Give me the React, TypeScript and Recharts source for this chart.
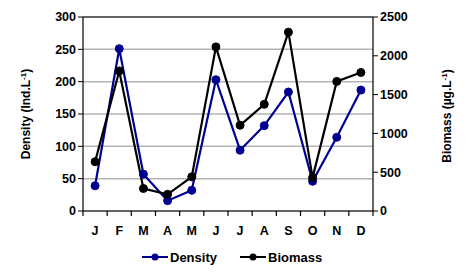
import { LineChart, Line, XAxis, YAxis, CartesianGrid, ReferenceLine, Legend } from 'recharts';

const MONTHS = ['J', 'F', 'M', 'A', 'M', 'J', 'J', 'A', 'S', 'O', 'N', 'D'];
const DENSITY = [39, 251, 57, 16, 32, 203, 94, 132, 184, 46, 114, 187];
const BIOMASS = [635, 1805, 290, 215, 440, 2115, 1105, 1375, 2305, 430, 1670, 1785];
const LEFT_TICKS = [0, 50, 100, 150, 200, 250, 300];
const RIGHT_TICKS = [0, 500, 1000, 1500, 2000, 2500];

const data = MONTHS.map((m, i) => ({ key: `${m}${i}`, month: m, density: DENSITY[i], biomass: BIOMASS[i] }));

const FONT = 'Arial, "Liberation Sans", sans-serif';
const BLUE = '#000090';
const HALF = 290 / 24;

function MonthTick(props: any) {
    const { x, index } = props;
    const axisY = 211;
    return (
        <g>
            {index === 0 && <line x1={x - HALF} y1={axisY} x2={x - HALF} y2={axisY + 5} stroke="#000" strokeWidth={1.2} />}
            <line x1={x + HALF} y1={axisY} x2={x + HALF} y2={axisY + 5} stroke="#000" strokeWidth={1.2} />
            <text x={x} y={axisY + 24} textAnchor="middle" fontFamily={FONT} fontWeight="bold" fontSize={12.5} fill="#000">
                {MONTHS[index]}
            </text>
        </g>
    );
}

function LegendContent() {
    const items = [
        { name: 'Density', color: BLUE },
        { name: 'Biomass', color: '#000' },
    ];
    return (
        <svg width={467} height={20} style={{ display: 'block' }}>
            {items.map((it, i) => {
                const x0 = 142 + i * 98;
                return (
                    <g key={it.name}>
                        <line x1={x0} y1={10} x2={x0 + 26} y2={10} stroke={it.color} strokeWidth={2} />
                        <circle cx={x0 + 13} cy={10} r={3.5} fill={it.color} />
                        <text x={x0 + 28} y={15} fontFamily={FONT} fontWeight="bold" fontSize={13} fill="#000">{it.name}</text>
                    </g>
                );
            })}
        </svg>
    );
}

export default function App() {
    return (
        <div style={{ position: 'absolute', left: 0, top: 0, background: '#fff' }}>
            <LineChart width={467} height={273} data={data} margin={{ top: 17, right: 0, left: 0, bottom: 12 }}>
                <CartesianGrid horizontal vertical={false} stroke="#b4b4b4" strokeWidth={1.5} yAxisId="left" />
                <XAxis
                    dataKey="key"
                    height={30}
                    padding={{ left: HALF, right: HALF }}
                    axisLine={{ stroke: '#000', strokeWidth: 1.2 }}
                    tickLine={false}
                    interval={0}
                    tick={<MonthTick />}
                />
                <YAxis
                    yAxisId="left"
                    width={83}
                    domain={[0, 300]}
                    ticks={LEFT_TICKS}
                    axisLine={{ stroke: '#000', strokeWidth: 1.2 }}
                    tickLine={{ stroke: '#000' }}
                    tickSize={5}
                    tick={{ fill: '#000', fontFamily: FONT, fontWeight: 'bold', fontSize: 12.5 }}
                    label={{
                        content: () => (
                            <text transform="translate(30,114) rotate(-90)" textAnchor="middle" fontFamily={FONT} fontWeight="bold" fontSize={12} fill="#000">
                                Density (Ind.L<tspan dy={-4} fontSize={8}>-1</tspan><tspan dy={4}>)</tspan>
                            </text>
                        ),
                    }}
                />
                <YAxis
                    yAxisId="right"
                    orientation="right"
                    width={94}
                    domain={[0, 2500]}
                    ticks={RIGHT_TICKS}
                    axisLine={{ stroke: '#000', strokeWidth: 1.2 }}
                    tickLine={{ stroke: '#000' }}
                    tickSize={5}
                    tick={{ fill: '#000', fontFamily: FONT, fontWeight: 'bold', fontSize: 12.5, textAnchor: 'start' }}
                    label={{
                        content: () => (
                            <text transform="translate(451,116) rotate(-90)" textAnchor="middle" fontFamily={FONT} fontWeight="bold" fontSize={12} fill="#000">
                                Biomass (µg.L<tspan dy={-4} fontSize={8}>-1</tspan><tspan dy={4}>)</tspan>
                            </text>
                        ),
                    }}
                />
                <ReferenceLine yAxisId="left" y={300} stroke="#000" strokeWidth={1.2} />
                <Line
                    yAxisId="left"
                    type="linear"
                    dataKey="density"
                    name="Density"
                    stroke={BLUE}
                    strokeWidth={2.2}
                    dot={{ r: 4, fill: BLUE, stroke: BLUE, strokeWidth: 1 }}
                    isAnimationActive={false}
                />
                <Line
                    yAxisId="right"
                    type="linear"
                    dataKey="biomass"
                    name="Biomass"
                    stroke="#000"
                    strokeWidth={2.2}
                    dot={{ r: 4, fill: '#000', stroke: '#000', strokeWidth: 1 }}
                    isAnimationActive={false}
                />
                <Legend verticalAlign="bottom" content={<LegendContent />} wrapperStyle={{ left: 0, bottom: 6, width: 467 }} />
            </LineChart>
        </div>
    );
}
